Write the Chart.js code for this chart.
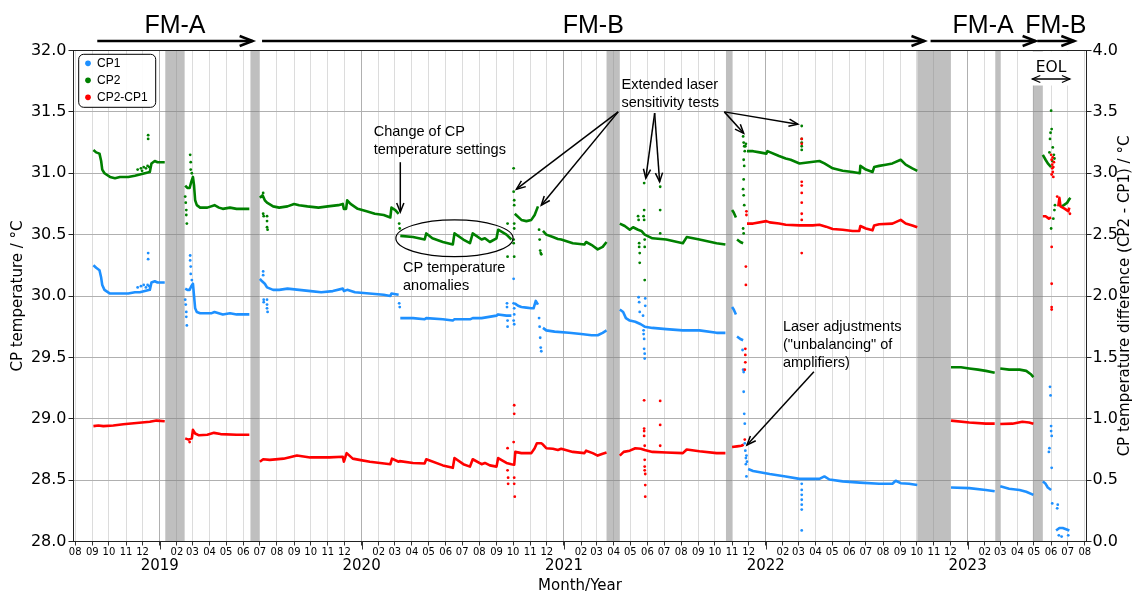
<!DOCTYPE html>
<html lang="en">
<head>
<meta charset="utf-8">
<title>CP temperatures</title>
<script src="https://cdn.jsdelivr.net/npm/chart.js@4.4.1/dist/chart.umd.min.js"></script>
<style>
  html, body { margin: 0; padding: 0; background: #fff; }
  #box { position: relative; width: 1138px; height: 595px; }
</style>
</head>
<body>
<div id="box"><canvas id="chart"></canvas></div>
<script>
// ---------------- data ----------------
// [date, value]; null breaks a trace (instrument off / swap)
const cp2Trace = [
  ["2018-09-03",31.19],["2018-09-08",31.17],["2018-09-14",31.16],["2018-09-17",31.10],["2018-09-19",31.03],["2018-09-23",31.00],["2018-10-03",30.97],["2018-10-12",30.96],["2018-10-21",30.97],["2018-11-05",30.97],["2018-11-17",30.98],["2018-11-26",30.99],["2018-12-05",31.00],["2018-12-14",31.01],["2018-12-17",31.08],["2018-12-23",31.10],["2018-12-28",31.09],["2019-01-10",31.09],
  null,
  ["2019-02-16",30.90],["2019-02-20",30.88],["2019-02-24",30.88],["2019-02-27",30.93],["2019-03-02",30.97],["2019-03-04",30.90],["2019-03-06",30.78],["2019-03-09",30.74],["2019-03-15",30.72],["2019-03-28",30.72],["2019-04-10",30.74],["2019-04-18",30.72],["2019-04-25",30.71],["2019-05-08",30.72],["2019-05-20",30.71],["2019-06-12",30.71],
  null,
  ["2019-07-01",30.80],["2019-07-06",30.82],["2019-07-10",30.78],["2019-07-14",30.76],["2019-07-25",30.73],["2019-08-05",30.72],["2019-08-20",30.73],["2019-09-01",30.75],["2019-09-10",30.74],["2019-09-25",30.73],["2019-10-15",30.72],["2019-11-01",30.73],["2019-11-20",30.74],["2019-11-28",30.75],["2019-11-30",30.71],["2019-12-04",30.71],["2019-12-06",30.78],["2019-12-12",30.75],["2019-12-25",30.71],["2020-01-10",30.69],["2020-01-25",30.67],["2020-02-10",30.66],["2020-02-22",30.64],["2020-02-24",30.72],["2020-03-02",30.70],["2020-03-08",30.67],
  null,
  ["2020-03-11",30.49],["2020-04-03",30.48],["2020-04-24",30.46],["2020-04-27",30.51],["2020-05-08",30.47],["2020-05-27",30.44],["2020-06-14",30.42],["2020-06-17",30.51],["2020-07-03",30.46],["2020-07-15",30.43],["2020-07-20",30.51],["2020-08-05",30.46],["2020-08-11",30.47],["2020-08-20",30.44],["2020-09-01",30.47],["2020-09-04",30.54],["2020-09-19",30.50],["2020-09-28",30.46],
  null,
  ["2020-10-04",30.67],["2020-10-16",30.62],["2020-10-25",30.61],["2020-11-03",30.62],["2020-11-09",30.66],["2020-11-15",30.73],
  null,
  ["2020-11-24",30.53],["2020-11-30",30.50],["2020-12-12",30.48],["2020-12-21",30.465],["2020-12-27",30.46],["2021-01-17",30.43],["2021-02-07",30.42],["2021-02-10",30.44],["2021-02-22",30.41],["2021-03-03",30.38],["2021-03-12",30.40],["2021-03-19",30.44],
  null,
  ["2021-04-12",30.59],["2021-04-21",30.57],["2021-04-30",30.54],["2021-05-06",30.56],["2021-05-15",30.54],["2021-05-21",30.53],["2021-05-27",30.50],["2021-06-10",30.47],["2021-07-05",30.46],["2021-08-04",30.43],["2021-08-11",30.48],["2021-09-03",30.46],["2021-10-04",30.43],["2021-10-20",30.42],
  null,
  ["2021-11-01",30.70],["2021-11-04",30.68],["2021-11-08",30.64],
  null,
  ["2021-11-10",30.46],["2021-11-16",30.44],["2021-11-21",30.43],
  null,
  ["2021-11-28",31.18],["2021-12-09",31.18],["2021-12-21",31.17],["2022-01-02",31.16],["2022-01-04",31.18],["2022-01-25",31.14],["2022-02-06",31.12],["2022-02-15",31.11],["2022-03-03",31.08],["2022-03-21",31.09],["2022-04-08",31.10],["2022-04-17",31.08],["2022-05-02",31.04],["2022-05-20",31.02],["2022-06-07",31.01],["2022-06-20",31.00],["2022-06-21",31.06],["2022-07-01",31.03],["2022-07-13",31.01],["2022-07-16",31.05],["2022-07-25",31.06],["2022-08-06",31.07],["2022-08-18",31.08],["2022-09-02",31.11],["2022-09-11",31.07],["2022-09-23",31.04],["2022-10-02",31.02],
  null,
  ["2022-12-02",29.42],["2022-12-20",29.42],["2023-01-04",29.41],["2023-01-20",29.40],["2023-02-03",29.39],["2023-02-19",29.375],
  null,
  ["2023-03-01",29.41],["2023-03-17",29.40],["2023-04-05",29.40],["2023-04-17",29.39],["2023-04-26",29.36],["2023-04-30",29.34],
  null,
  ["2023-05-17",31.15],["2023-05-22",31.11],["2023-05-26",31.08],["2023-06-01",31.05],
  null,
  ["2023-06-20",30.73],["2023-06-24",30.74],["2023-06-30",30.76],["2023-07-04",30.79],["2023-07-06",30.80]
];
const cp2Scatter = [
  ["2018-12-11",31.31],["2018-12-11",31.28],
  ["2018-11-22",31.03],["2018-11-28",31.04],["2018-12-03",31.05],["2018-12-07",31.04],["2018-12-10",31.06],["2018-12-13",31.05],["2018-11-30",31.02],
  ["2019-02-16",30.81],["2019-02-17",30.76],["2019-02-18",30.70],["2019-02-18",30.66],["2019-02-19",30.59],
  ["2019-02-25",31.15],["2019-02-26",31.09],["2019-02-26",31.03],["2019-02-28",31.00],
  ["2019-07-07",30.84],["2019-07-07",30.67],["2019-07-08",30.65],["2019-07-14",30.65],["2019-07-14",30.61],["2019-07-14",30.56],["2019-07-15",30.54],
  ["2020-03-09",30.59],["2020-03-10",30.55],
  ["2020-09-21",30.59],["2020-09-21",30.32],
  ["2020-10-02",31.04],["2020-10-02",30.85],["2020-10-03",30.78],["2020-10-03",30.74],["2020-10-03",30.59],["2020-10-03",30.55],["2020-10-02",30.46],["2020-10-02",30.43],["2020-10-03",30.32],
  ["2020-11-17",30.54],["2020-11-18",30.46],["2020-11-19",30.37],["2020-11-20",30.35],["2020-11-21",30.34],
  ["2021-05-15",30.65],["2021-05-16",30.62],["2021-05-17",30.43],["2021-05-17",30.40],["2021-05-18",30.35],["2021-05-18",30.27],
  ["2021-05-26",30.92],["2021-05-26",30.70],["2021-05-25",30.65],["2021-05-26",30.62],["2021-05-27",30.46],["2021-05-27",30.40],["2021-05-27",30.13],
  ["2021-06-24",30.89],["2021-06-24",30.70],["2021-06-24",30.51],
  ["2021-11-21",31.30],["2021-11-22",31.25],["2021-11-23",31.22],["2021-11-24",31.18],["2021-11-22",31.11],["2021-11-23",31.06],["2021-11-22",30.95],["2021-11-21",30.87],["2021-11-22",30.82],["2021-11-23",30.74],["2021-11-21",30.55],["2021-11-22",30.51],["2021-11-25",31.22],["2021-11-26",31.24],
  ["2022-03-07",31.385],["2022-03-07",31.28],["2022-03-07",31.25],["2022-03-07",31.22],["2022-03-07",31.19],
  ["2023-05-29",31.17],["2023-05-30",31.28],["2023-05-31",31.33],["2023-06-01",31.51],["2023-06-02",31.36],["2023-06-04",31.21],["2023-06-06",31.15],["2023-06-07",31.12],["2023-06-03",31.10],["2023-06-01",30.55],["2023-06-05",30.63],["2023-06-08",30.74],["2023-06-07",30.70]
];
const cp1Trace = [
  ["2018-09-03",30.25],["2018-09-08",30.23],["2018-09-14",30.21],["2018-09-17",30.15],["2018-09-19",30.09],["2018-09-23",30.05],["2018-10-03",30.02],["2018-10-21",30.02],["2018-11-05",30.02],["2018-11-17",30.03],["2018-11-26",30.03],["2018-12-05",30.04],["2018-12-14",30.05],["2018-12-17",30.11],["2018-12-23",30.12],["2018-12-28",30.11],["2019-01-10",30.11],
  null,
  ["2019-02-16",30.06],["2019-02-20",30.05],["2019-02-24",30.05],["2019-02-27",30.08],["2019-03-02",30.10],["2019-03-04",30.00],["2019-03-06",29.90],["2019-03-09",29.87],["2019-03-15",29.86],["2019-04-05",29.86],["2019-04-10",29.87],["2019-04-25",29.85],["2019-05-08",29.86],["2019-05-20",29.85],["2019-06-12",29.85],
  null,
  ["2019-07-01",30.14],["2019-07-05",30.12],["2019-07-10",30.10],["2019-07-14",30.07],["2019-07-25",30.05],["2019-08-05",30.05],["2019-08-20",30.06],["2019-09-10",30.05],["2019-10-01",30.04],["2019-10-20",30.03],["2019-11-10",30.04],["2019-11-28",30.06],["2019-11-30",30.04],["2019-12-06",30.05],["2019-12-20",30.03],["2020-01-15",30.02],["2020-02-10",30.01],["2020-02-22",30.00],["2020-02-24",30.02],["2020-03-08",30.01],
  null,
  ["2020-03-11",29.82],["2020-04-03",29.82],["2020-04-24",29.81],["2020-04-27",29.82],["2020-05-27",29.81],["2020-06-14",29.80],["2020-06-17",29.81],["2020-07-15",29.81],["2020-07-20",29.82],["2020-08-05",29.82],["2020-09-01",29.84],["2020-09-04",29.85],["2020-09-19",29.84],["2020-09-28",29.84],
  null,
  ["2020-10-04",29.94],["2020-10-10",29.92],["2020-10-16",29.91],["2020-10-25",29.905],["2020-11-03",29.90],["2020-11-07",29.90],["2020-11-11",29.96],["2020-11-15",29.93],
  null,
  ["2020-11-24",29.74],["2020-11-30",29.72],["2020-12-15",29.71],["2021-01-10",29.70],["2021-02-01",29.69],["2021-02-20",29.68],["2021-03-03",29.68],["2021-03-12",29.70],["2021-03-19",29.72],
  null,
  ["2021-04-12",29.89],["2021-04-18",29.87],["2021-04-23",29.82],["2021-04-30",29.80],["2021-05-10",29.79],["2021-05-20",29.77],["2021-05-27",29.75],["2021-06-10",29.74],["2021-07-05",29.73],["2021-08-04",29.72],["2021-09-03",29.72],["2021-10-04",29.70],["2021-10-20",29.70],
  null,
  ["2021-11-01",29.91],["2021-11-04",29.89],["2021-11-08",29.85],
  null,
  ["2021-11-10",29.67],["2021-11-16",29.65],["2021-11-21",29.64],
  null,
  ["2021-11-30",28.59],["2021-12-09",28.575],["2022-01-08",28.55],["2022-02-06",28.53],["2022-03-03",28.51],["2022-03-27",28.51],["2022-04-08",28.51],["2022-04-17",28.53],["2022-04-26",28.505],["2022-05-20",28.49],["2022-06-20",28.48],["2022-07-25",28.47],["2022-08-18",28.47],["2022-08-24",28.495],["2022-09-02",28.475],["2022-09-17",28.47],["2022-10-02",28.46],
  null,
  ["2022-12-02",28.44],["2023-01-04",28.435],["2023-02-03",28.42],["2023-02-19",28.41],
  null,
  ["2023-03-01",28.45],["2023-03-17",28.43],["2023-04-05",28.42],["2023-04-17",28.405],["2023-04-30",28.38],
  null,
  ["2023-05-17",28.49],["2023-05-22",28.47],["2023-05-26",28.44],["2023-06-01",28.42],
  null,
  ["2023-06-10",28.09],["2023-06-16",28.11],["2023-06-22",28.11],["2023-06-28",28.10],["2023-07-04",28.09]
];
const cp1Scatter = [
  ["2018-12-11",30.35],["2018-12-11",30.30],
  ["2018-11-22",30.07],["2018-11-28",30.08],["2018-12-03",30.09],["2018-12-07",30.07],["2018-12-10",30.09],["2018-12-13",30.08],
  ["2019-02-16",29.97],["2019-02-17",29.93],["2019-02-18",29.87],["2019-02-18",29.83],["2019-02-19",29.76],
  ["2019-02-25",30.33],["2019-02-25",30.29],["2019-02-26",30.24],["2019-02-26",30.18],["2019-02-28",30.13],
  ["2019-07-07",30.20],["2019-07-07",30.17],["2019-07-08",29.97],["2019-07-08",29.95],["2019-07-14",29.97],["2019-07-14",29.93],["2019-07-14",29.90],["2019-07-15",29.87],
  ["2020-03-09",29.94],["2020-03-10",29.91],
  ["2020-09-20",29.94],["2020-09-20",29.91],["2020-09-21",29.80],["2020-09-21",29.75],
  ["2020-10-02",30.14],["2020-10-02",29.94],["2020-10-03",29.90],["2020-10-03",29.85],["2020-10-02",29.80],["2020-10-03",29.77],
  ["2020-11-17",29.82],["2020-11-18",29.75],["2020-11-19",29.66],["2020-11-20",29.58],["2020-11-21",29.55],
  ["2021-05-16",29.99],["2021-05-17",29.95],["2021-05-18",29.87],["2021-05-24",29.84],["2021-05-25",29.72],["2021-05-25",29.69],["2021-05-26",29.65],["2021-05-26",29.57],["2021-05-27",29.53],["2021-05-27",29.49],["2021-05-28",29.98],["2021-05-28",29.92],
  ["2021-11-20",29.56],["2021-11-21",29.40],["2021-11-22",29.38],["2021-11-22",29.22],["2021-11-23",29.04],["2021-11-24",28.96],["2021-11-24",28.80],["2021-11-25",28.74],["2021-11-26",28.68],["2021-11-26",28.63],["2021-11-27",28.53],["2021-11-27",28.70],["2021-11-28",28.65],
  ["2022-03-07",28.47],["2022-03-07",28.42],["2022-03-07",28.38],["2022-03-07",28.34],["2022-03-07",28.30],["2022-03-07",28.26],["2022-03-07",28.09],
  ["2023-05-30",29.26],["2023-05-31",29.19],["2023-06-01",28.94],["2023-06-01",28.90],["2023-06-02",28.86],["2023-05-28",28.73],["2023-05-29",28.76],["2023-06-02",28.60],["2023-06-03",28.31],["2023-06-12",28.27],["2023-06-13",28.30],["2023-06-15",28.05],["2023-06-20",28.04],["2023-07-02",28.05]
];
const diffTrace = [
  ["2018-09-03",0.94],["2018-09-12",0.945],["2018-09-21",0.94],["2018-10-09",0.945],["2018-10-27",0.955],["2018-11-20",0.965],["2018-12-14",0.975],["2018-12-26",0.985],["2019-01-10",0.98],
  null,
  ["2019-02-16",0.84],["2019-02-22",0.83],["2019-02-28",0.84],["2019-03-02",0.91],["2019-03-06",0.88],["2019-03-13",0.865],["2019-03-28",0.87],["2019-04-09",0.885],["2019-04-21",0.875],["2019-05-20",0.87],["2019-06-12",0.87],
  null,
  ["2019-07-01",0.65],["2019-07-07",0.67],["2019-07-19",0.665],["2019-08-13",0.675],["2019-09-06",0.70],["2019-09-30",0.685],["2019-11-04",0.685],["2019-11-28",0.69],["2019-11-30",0.65],["2019-12-05",0.72],["2019-12-16",0.675],["2019-12-28",0.665],["2020-01-16",0.65],["2020-02-22",0.63],["2020-02-25",0.675],["2020-03-08",0.65],
  ["2020-03-10",0.655],["2020-04-03",0.64],["2020-04-24",0.636],["2020-04-27",0.67],["2020-05-27",0.62],["2020-06-14",0.60],["2020-06-17",0.68],["2020-07-03",0.63],["2020-07-15",0.61],["2020-07-20",0.67],["2020-08-05",0.63],["2020-08-11",0.64],["2020-08-20",0.62],["2020-09-01",0.61],["2020-09-04",0.68],["2020-09-19",0.64],["2020-09-28",0.63],["2020-10-03",0.625],
  ["2020-10-05",0.73],["2020-10-16",0.72],["2020-10-25",0.72],["2020-11-03",0.72],["2020-11-09",0.76],["2020-11-13",0.80],["2020-11-21",0.80],["2020-11-24",0.79],["2020-11-30",0.76],["2020-12-12",0.755],["2020-12-21",0.745],["2020-12-27",0.755],["2021-01-17",0.73],["2021-02-07",0.72],["2021-02-10",0.74],["2021-02-22",0.72],["2021-03-03",0.70],["2021-03-12",0.715],["2021-03-19",0.725],
  null,
  ["2021-04-12",0.70],["2021-04-19",0.73],["2021-04-30",0.74],["2021-05-10",0.76],["2021-05-20",0.755],["2021-05-27",0.745],["2021-06-10",0.73],["2021-07-05",0.725],["2021-08-04",0.72],["2021-08-11",0.75],["2021-09-03",0.735],["2021-10-04",0.72],["2021-10-20",0.72],
  null,
  ["2021-11-01",0.77],["2021-11-10",0.775],["2021-11-18",0.78],["2021-11-22",0.79],
  null,
  ["2021-11-28",2.59],["2021-12-09",2.59],["2022-01-02",2.61],["2022-01-08",2.60],["2022-01-25",2.59],["2022-02-06",2.58],["2022-03-03",2.575],["2022-03-27",2.575],["2022-04-08",2.58],["2022-04-20",2.565],["2022-05-02",2.546],["2022-05-20",2.54],["2022-06-07",2.53],["2022-06-19",2.53],["2022-06-21",2.57],["2022-07-01",2.55],["2022-07-13",2.535],["2022-07-16",2.575],["2022-07-25",2.585],["2022-08-18",2.59],["2022-09-02",2.62],["2022-09-11",2.59],["2022-09-23",2.575],["2022-10-02",2.56],
  null,
  ["2022-12-02",0.985],["2023-01-04",0.97],["2023-02-03",0.96],["2023-02-19",0.96],
  null,
  ["2023-03-01",0.957],["2023-03-23",0.96],["2023-04-10",0.975],["2023-04-22",0.97],["2023-04-30",0.96],
  null,
  ["2023-05-17",2.65],["2023-05-22",2.65],["2023-05-28",2.63],["2023-06-01",2.64],
  null,
  ["2023-06-14",2.73],["2023-06-16",2.80],["2023-06-18",2.73],["2023-06-26",2.71],["2023-07-02",2.69],["2023-07-04",2.72]
];
const diffScatter = [
  ["2019-02-24",0.81],
  ["2020-09-21",0.76],["2020-09-21",0.58],["2020-09-22",0.52],["2020-09-22",0.47],
  ["2020-10-03",1.11],["2020-10-03",1.04],["2020-10-02",0.81],["2020-10-03",0.52],["2020-10-03",0.47],["2020-10-04",0.365],
  ["2021-05-26",1.15],["2021-05-26",0.92],["2021-05-26",0.90],["2021-05-26",0.86],["2021-05-27",0.78],["2021-05-27",0.665],["2021-05-27",0.61],["2021-05-27",0.58],["2021-05-28",0.55],["2021-05-28",0.46],["2021-05-28",0.365],
  ["2021-06-24",1.145],["2021-06-24",0.95],["2021-06-24",0.78],
  ["2021-11-27",2.69],["2021-11-27",2.66],["2021-11-26",2.24],["2021-11-26",2.09],["2021-11-25",1.57],["2021-11-25",1.52],["2021-11-25",1.46],["2021-11-24",1.40],["2021-11-24",0.83],
  ["2022-03-07",3.28],["2022-03-07",3.24],["2022-03-07",2.93],["2022-03-07",2.90],["2022-03-07",2.84],["2022-03-07",2.76],["2022-03-07",2.67],["2022-03-07",2.62],["2022-03-07",2.35],
  ["2023-06-01",3.15],["2023-06-02",3.11],["2023-06-03",3.07],["2023-06-04",3.01],["2023-06-05",2.97],["2023-06-03",3.04],["2023-06-06",3.09],["2023-06-04",3.13],["2023-06-05",3.05],["2023-06-02",2.99],["2023-06-02",2.40],["2023-06-02",2.10],["2023-06-02",1.91],["2023-06-02",1.89],["2023-06-12",2.81],["2023-07-05",2.67]
];

// instrument down-times, shaded grey
const downtime = [
  ["2019-01-11","2019-02-15"],["2019-06-14","2019-06-30"],["2021-03-19","2021-04-12"],["2021-10-21","2021-11-01"],
  ["2022-10-02","2022-12-01"],["2023-02-20","2023-03-01"],["2023-04-29","2023-05-17"]
];
// flight-model campaigns shown above the plot
const campaigns = [
  ["FM-A","2018-09-10","2019-06-18"],["FM-B","2019-07-05","2022-10-15"],
  ["FM-A","2022-10-26","2023-05-04"],["FM-B","2023-05-07","2023-07-13"]
];
const eolSpan = ["2023-04-28","2023-07-05"];

const monthLabels = ["01","02","03","04","05","06","07","08","09","10","11","12"];
const yearLabels = ["2019","2020","2021","2022","2023"];

// text notes: lines, left edge date, first-line value (left axis)
const notes = [
  [["Change of CP","temperature settings"],"2020-01-23",31.336],
  [["CP temperature","anomalies"],"2020-03-16",30.228],
  [["Extended laser","sensitivity tests"],"2021-04-15",31.72],
  [["Laser adjustments","(\"unbalancing\" of","amplifiers)"],"2022-02-01",29.75]
];
// pointer arrows: from (date, value) to (date, value)
const pointers = [
  ["2020-03-11",31.09,"2020-03-11",30.684],
  ["2021-04-09",31.50,"2020-10-07",30.87],
  ["2021-04-09",31.50,"2020-11-21",30.74],
  ["2021-06-14",31.49,"2021-05-29",30.96],
  ["2021-06-14",31.49,"2021-06-23",30.93],
  ["2021-10-18",31.50,"2021-11-22",31.325],
  ["2021-10-18",31.50,"2022-02-28",31.40],
  ["2022-03-29",29.383,"2021-11-28",28.786]
];
// ring around the anomaly period: left, right dates, low/high values
const anomalyRing = ["2020-03-03","2020-10-01",30.32,30.62];

// ---------------- helpers ----------------
const SANS = '"DejaVu Sans", sans-serif';
const ARIAL = '"Liberation Sans", Arial, sans-serif';
const COL = { cp1: "#1e90ff", cp2: "#008000", diff: "#ff0000" };

const day = s => Date.UTC(+s.slice(0, 4), +s.slice(5, 7) - 1, +s.slice(8, 10));
function toPoints(list) {
  const out = []; let lastX = 0;
  for (const p of list) {
    if (p === null) { out.push({ x: lastX + 1, y: null }); continue; }
    lastX = day(p[0]); out.push({ x: lastX, y: p[1] });
  }
  return out;
}
const monthTicks = [];
for (let y = 2018, m = 7; y < 2023 || (y === 2023 && m <= 7); m++) {
  if (m > 11) { m = 0; y++; }
  monthTicks.push(Date.UTC(y, m, 1));
}
const isJan = v => new Date(v).getUTCMonth() === 0;

function trace(label, data, color, axis) {
  return { label, data: toPoints(data), yAxisID: axis, showLine: true, spanGaps: false,
    borderColor: color, backgroundColor: color, borderWidth: 2.6, borderJoinStyle: "round",
    pointRadius: 0, pointHoverRadius: 0, pointBorderWidth: 0, tension: 0 };
}
function dots(data, color, axis) {
  return { label: "", data: toPoints(data), yAxisID: axis, showLine: false,
    borderColor: color, backgroundColor: color, pointRadius: 1.4, pointBorderWidth: 0, pointHoverRadius: 0 };
}

function head(ctx, x1, y1, x2, y2, len, half) {
  const a = Math.atan2(y2 - y1, x2 - x1), c = Math.cos(a), s = Math.sin(a);
  ctx.beginPath();
  ctx.moveTo(x2 - len * c + half * s, y2 - len * s - half * c);
  ctx.lineTo(x2, y2);
  ctx.lineTo(x2 - len * c - half * s, y2 - len * s + half * c);
  ctx.stroke();
}
function arrow(ctx, x1, y1, x2, y2, len, half, both) {
  ctx.beginPath(); ctx.moveTo(x1, y1); ctx.lineTo(x2, y2); ctx.stroke();
  head(ctx, x1, y1, x2, y2, len, half);
  if (both) head(ctx, x2, y2, x1, y1, len, half);
}

// ---------------- decorations ----------------
const decor = {
  id: "decor",
  afterLayout(chart) {
    const lg = chart.legend, a = chart.chartArea;
    if (lg) { lg.left = a.left + 6.5; lg.top = a.top + 1.8; }
  },
  beforeDatasetsDraw(chart) {
    const { ctx, chartArea: a, scales: { x } } = chart;
    ctx.save();
    ctx.fillStyle = "rgba(128,128,128,0.5)";
    for (const [s, e] of downtime) {
      const x0 = x.getPixelForValue(day(s)), x1 = x.getPixelForValue(day(e));
      ctx.fillRect(x0, a.top, x1 - x0, a.bottom - a.top);
    }
    ctx.restore();
  },
  afterDatasetsDraw(chart) {
    const { ctx, chartArea: a, scales: { x, y } } = chart;
    const X = d => x.getPixelForValue(day(d));
    const Y = v => y.getPixelForValue(v);
    ctx.save();
    ctx.lineCap = "butt"; ctx.lineJoin = "miter";

    // frame
    ctx.strokeStyle = "#222"; ctx.lineWidth = 1;
    ctx.strokeRect(a.left, a.top, a.right - a.left, a.bottom - a.top);

    // longer year ticks
    ctx.strokeStyle = "#333";
    for (const yr of yearLabels) {
      const px = Math.round(X(yr + "-01-01")) + 0.5;
      ctx.beginPath(); ctx.moveTo(px, a.bottom); ctx.lineTo(px, a.bottom + 8); ctx.stroke();
    }

    // campaigns
    ctx.fillStyle = "#000"; ctx.strokeStyle = "#000";
    ctx.font = "25px " + ARIAL; ctx.textAlign = "center"; ctx.textBaseline = "alphabetic";
    ctx.lineWidth = 2.5;
    for (const [name, from, to] of campaigns) {
      const x0 = X(from), x1 = X(to), yy = a.top - 9.5;
      arrow(ctx, x0, yy, x1, yy, 13, 5, false);
      ctx.fillText(name, (x0 + x1) / 2, a.top - 17.5);
    }

    // end-of-life span
    const e0 = X(eolSpan[0]), e1 = X(eolSpan[1]);
    ctx.fillStyle = "#fff";
    ctx.fillRect(e0 - 3, a.top + 1, e1 - e0 + 6, 34);
    ctx.fillStyle = "#000"; ctx.lineWidth = 1.3;
    arrow(ctx, e0, a.top + 28.5, e1, a.top + 28.5, 8, 3.5, true);
    ctx.font = "15.5px " + SANS; ctx.textBaseline = "middle";
    ctx.fillText("EOL", (e0 + e1) / 2, a.top + 17);

    // anomaly ring
    const rl = X(anomalyRing[0]), rr = X(anomalyRing[1]);
    const rb = Y(anomalyRing[2]), rt = Y(anomalyRing[3]);
    ctx.lineWidth = 1.2;
    ctx.beginPath();
    ctx.ellipse((rl + rr) / 2, (rt + rb) / 2, (rr - rl) / 2, (rb - rt) / 2, 0, 0, Math.PI * 2);
    ctx.stroke();

    // notes
    ctx.font = "14.5px " + ARIAL; ctx.textAlign = "left"; ctx.textBaseline = "middle";
    for (const [lines, d, v] of notes) {
      lines.forEach((t, i) => ctx.fillText(t, X(d), Y(v) + i * 18.3));
    }
    // pointers
    ctx.lineWidth = 1.5;
    for (const [d0, v0, d1, v1] of pointers) {
      arrow(ctx, X(d0), Y(v0), X(d1), Y(v1), 9, 3.6, false);
    }

    // legend frame, then legend on top of it
    const lg = chart.legend;
    if (lg) {
      const bx = lg.left - 1.3, by = lg.top + 2, bw = 77, bh = 53, r = 5;
      ctx.beginPath();
      ctx.roundRect(bx, by, bw, bh, r);
      ctx.fillStyle = "rgba(255,255,255,0.9)"; ctx.fill();
      ctx.strokeStyle = "#000"; ctx.lineWidth = 1; ctx.stroke();
      ctx.restore(); ctx.save();
      lg.draw();
    }

    // right axis title (reads bottom to top)
    ctx.fillStyle = "#000";
    ctx.font = "15px " + SANS; ctx.textAlign = "center"; ctx.textBaseline = "middle";
    ctx.translate(1125, (a.top + a.bottom) / 2);
    ctx.rotate(-Math.PI / 2);
    ctx.fillText("CP temperature difference (CP2 - CP1) / \u00b0C", 0, 0);
    ctx.restore();
  }
};

// ---------------- chart ----------------
const order = { "CP1": 0, "CP2": 1, "CP2-CP1": 2 };
new Chart(document.getElementById("chart"), {
  type: "scatter",
  data: {
    datasets: [
      trace("CP2-CP1", diffTrace, COL.diff, "y2"),
      dots(diffScatter, COL.diff, "y2"),
      trace("CP2", cp2Trace, COL.cp2, "y"),
      dots(cp2Scatter, COL.cp2, "y"),
      trace("CP1", cp1Trace, COL.cp1, "y"),
      dots(cp1Scatter, COL.cp1, "y")
    ]
  },
  options: {
    responsive: true, maintainAspectRatio: false, animation: false, devicePixelRatio: 1,
    events: [],
    layout: { padding: { top: 50.5, left: 0, right: 0, bottom: 0 } },
    plugins: {
      tooltip: { enabled: false },
      legend: {
        position: "chartArea", align: "start",
        labels: {
          usePointStyle: true, pointStyle: "circle", boxWidth: 6, boxHeight: 4, padding: 5,
          color: "#000", font: { family: ARIAL, size: 12 },
          filter: item => item.text !== "",
          sort: (p, q) => order[p.text] - order[q.text]
        }
      }
    },
    scales: {
      x: {
        type: "linear", position: "bottom", weight: 0,
        min: day("2018-07-29"), max: day("2023-08-04"),
        afterBuildTicks: s => { s.ticks = monthTicks.map(v => ({ value: v })); },
        afterFit: s => { s.height = 16; },
        ticks: {
          autoSkip: false, maxRotation: 0, minRotation: 0, padding: 1, color: "#000",
          font: { family: SANS, size: 10 },
          callback: v => isJan(v) ? "" : monthLabels[new Date(v).getUTCMonth()]
        },
        grid: {
          color: c => (c.tick && isJan(c.tick.value)) ? "#b0b0b0" : "#dcdcdc",
          lineWidth: 1, tickLength: 4, tickColor: "#333"
        },
        border: { display: false }
      },
      x2: {
        type: "linear", position: "bottom", weight: 1,
        min: day("2018-07-29"), max: day("2023-08-04"),
        afterBuildTicks: s => { s.ticks = yearLabels.map(yr => ({ value: Date.UTC(+yr, 0, 1) })); },
        afterFit: s => { s.height = 37.5; },
        ticks: {
          autoSkip: false, maxRotation: 0, padding: 0, color: "#000",
          font: { family: SANS, size: 15 },
          callback: v => String(new Date(v).getUTCFullYear())
        },
        grid: { display: false, drawTicks: false },
        border: { display: false },
        title: { display: true, text: "Month/Year", color: "#000", font: { family: SANS, size: 15 }, padding: { top: 0, bottom: 0 } }
      },
      y: {
        type: "linear", position: "left", min: 28, max: 32,
        afterFit: s => { s.width = 73.5; },
        ticks: { stepSize: 0.5, padding: 2, color: "#000", font: { family: SANS, size: 16 }, callback: v => v.toFixed(1) },
        grid: { color: "#b0b0b0", lineWidth: 1, tickLength: 5, tickColor: "#222" },
        border: { display: false },
        title: { display: true, text: "CP temperature / \u00b0C", color: "#000", font: { family: SANS, size: 15 }, padding: { top: 9, bottom: 0 } }
      },
      y2: {
        type: "linear", position: "right", min: 0, max: 4,
        afterFit: s => { s.width = 51.5; },
        ticks: { stepSize: 0.5, padding: 1, color: "#000", font: { family: SANS, size: 16 }, callback: v => v.toFixed(1) },
        grid: { drawOnChartArea: false, tickLength: 5, tickColor: "#222" },
        border: { display: false }
      }
    }
  },
  plugins: [decor]
});
</script>
</body>
</html>
